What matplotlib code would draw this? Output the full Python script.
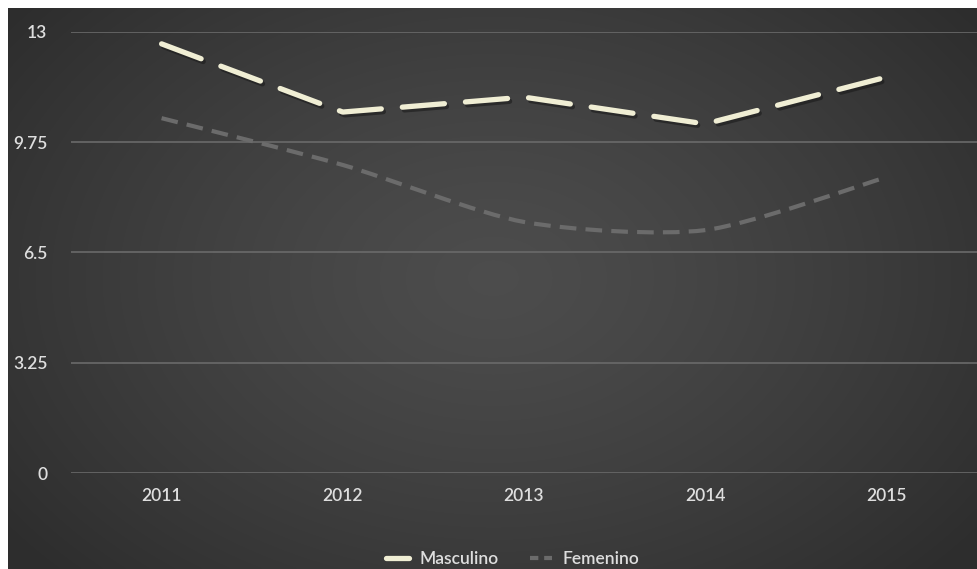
import numpy as np
import matplotlib
matplotlib.use("Agg")
import matplotlib.pyplot as plt
from matplotlib.path import Path
from matplotlib.patches import PathPatch
import matplotlib.patheffects as pe

years = ["2011", "2012", "2013", "2014", "2015"]
masculino = [12.65, 10.64, 11.08, 10.29, 11.67]
femenino = [10.46, 9.08, 7.40, 7.16, 8.72]
yticks = [0, 3.25, 6.5, 9.75, 13]
ytick_labels = ["0", "3.25", "6.5", "9.75", "13"]

plt.rcParams['font.family'] = ['Lato', 'DejaVu Sans']

W, H = 977, 569
fig = plt.figure(figsize=(W / 100, H / 100), dpi=100)
fig.patch.set_facecolor("white")

# background gradient panel
bg = fig.add_axes([8 / W, 0, 1 - 8 / W, 1 - 8 / H])
bg.set_axis_off()
ny, nx = 300, 500
yy, xx = np.mgrid[0:ny, 0:nx]
cx, cy = nx * 0.5, ny * 0.48
r = np.sqrt(((xx - cx) / (nx * 0.62)) ** 2 + ((yy - cy) / (ny * 0.75)) ** 2)
r = np.clip(r, 0, 1)
val = 0.30 - 0.12 * r ** 1.3
img = np.dstack([val, val, val])
bg.imshow(img, aspect="auto", extent=[0, 1, 0, 1], interpolation="bilinear")
bg.set_xlim(0, 1)
bg.set_ylim(0, 1)

ax = fig.add_axes([71 / W, (H - 473) / H, (977 - 71) / W, (473 - 32) / H])
ax.patch.set_alpha(0)
x = np.arange(len(years))
ax.set_xlim(-0.5, len(years) - 0.5)
ax.set_ylim(0, 13)
for s in ax.spines.values():
    s.set_visible(False)
ax.set_yticks(yticks)
ax.set_yticklabels(ytick_labels)
ax.set_xticks(x)
ax.set_xticklabels(years)
ax.tick_params(axis="both", length=0, colors="#dedede", labelsize=12.5)
ax.tick_params(axis="y", pad=17)
ax.tick_params(axis="x", pad=11)
for t in ax.get_xticklabels() + ax.get_yticklabels():
    t.set_fontweight("semibold")
ax.grid(axis="y", color="#6a6a6a", linewidth=1.2)
ax.set_axisbelow(True)

# Femenino: smoothed curve (Catmull-Rom -> cubic Bezier in data coords)
fx = np.array(x, dtype=float)
fy = np.array(femenino, dtype=float)
verts = [(fx[0], fy[0])]
codes = [Path.MOVETO]
n = len(fx)
k = 8.0
for i in range(n - 1):
    p0 = (fx[max(i - 1, 0)], fy[max(i - 1, 0)])
    p1 = (fx[i], fy[i])
    p2 = (fx[i + 1], fy[i + 1])
    p3 = (fx[min(i + 2, n - 1)], fy[min(i + 2, n - 1)])
    c1 = (p1[0] + (p2[0] - p0[0]) / k, p1[1] + (p2[1] - p0[1]) / k)
    c2 = (p2[0] - (p3[0] - p1[0]) / k, p2[1] - (p3[1] - p1[1]) / k)
    verts += [c1, c2, p2]
    codes += [Path.CURVE4] * 3
fpath = Path(verts, codes)
patch = PathPatch(fpath, facecolor="none", edgecolor="#6b6b6b", linewidth=3.0,
                  linestyle=(0, (4.0, 2.2)), capstyle="butt", zorder=3)
ax.add_patch(patch)
fline, = ax.plot([], [], color="#6b6b6b", linewidth=3.0, linestyle=(0, (2.0, 1.4)),
                 label="Femenino")

# Masculino
mline, = ax.plot(x, masculino, color="#f0eed4", linewidth=3.8,
                 dashes=(8, 4), dash_capstyle="round", solid_joinstyle="round",
                 zorder=4, label="Masculino",
                 path_effects=[pe.SimpleLineShadow(offset=(1.5, -2), shadow_color="#1a1a1a", alpha=0.6),
                               pe.Normal()])

leg = fig.legend(handles=[mline, fline], labels=["Masculino", "Femenino"],
                 loc="center", bbox_to_anchor=(0.525, (H - 559) / H), ncol=2,
                 frameon=False, fontsize=12.5, handlelength=1.3, columnspacing=1.8,
                 handletextpad=0.6)
for t in leg.get_texts():
    t.set_color("#dedede")
    t.set_fontweight("semibold")
for lh in leg.legend_handles:
    lh.set_path_effects([])

fig.savefig("out.png", dpi=100, facecolor=fig.get_facecolor())
